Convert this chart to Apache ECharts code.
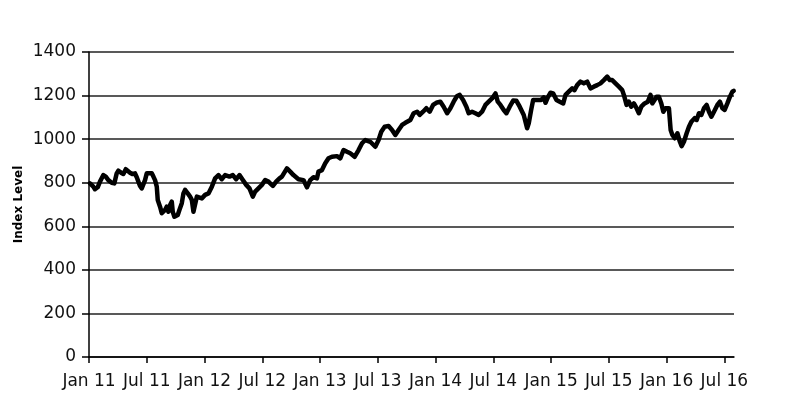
<!DOCTYPE html>
<html>
<head>
<meta charset="utf-8">
<script src="https://cdn.jsdelivr.net/npm/echarts@6/dist/echarts.min.js"></script>
<style>
html,body{margin:0;padding:0;background:#fff;}
#c{width:785px;height:408px;}
</style>
</head>
<body>
<div id="c"></div>
<script>
// Months elapsed since January 2011
const months = [
0.10,0.28,0.45,0.62,0.90,1.14,1.49,1.74,2.01,2.36,2.63,2.88,3.05,3.33,3.57,3.82,4.02,4.26,4.50,4.78,
4.96,5.13,5.30,5.48,5.65,5.82,6.00,6.17,6.52,6.69,6.86,7.04,7.14,7.38,7.56,7.73,7.90,8.08,8.25,8.42,
8.60,8.70,8.87,9.05,9.22,9.39,9.64,9.81,9.98,10.26,10.50,10.68,10.85,11.20,11.72,12.06,12.41,12.76,13.10,13.45,
13.80,14.14,14.59,14.94,15.29,15.63,15.98,16.33,16.67,17.02,17.26,17.60,17.96,18.30,18.64,19.10,19.44,19.79,20.04,20.20,
20.56,20.90,21.24,21.76,22.28,22.64,22.98,23.32,23.68,23.84,24.20,24.54,24.88,25.24,25.76,26.10,26.44,26.80,27.14,27.59,
28.00,28.36,28.70,29.22,29.74,30.08,30.36,30.71,31.12,31.48,31.82,32.16,32.52,32.86,33.04,33.38,33.72,34.08,34.35,34.70,
35.04,35.39,35.74,36.08,36.50,36.84,37.20,37.54,37.88,38.23,38.51,38.86,39.20,39.44,39.79,40.14,40.48,40.83,41.18,41.52,
41.87,42.22,42.46,42.74,43.08,43.36,43.70,44.06,44.40,44.74,45.16,45.51,45.68,45.93,46.14,46.55,46.97,47.24,47.42,47.66,
47.94,48.22,48.56,48.90,49.26,49.50,49.84,50.19,50.43,50.71,51.05,51.40,51.75,52.09,52.44,52.79,53.13,53.48,53.83,54.10,
54.35,54.69,55.04,55.39,55.56,55.84,56.08,56.33,56.60,56.88,57.12,57.37,57.71,58.05,58.33,58.51,58.68,58.96,59.20,59.45,
59.66,59.89,60.07,60.24,60.42,60.60,60.84,61.12,61.38,61.56,61.80,62.08,62.32,62.57,62.91,63.12,63.36,63.61,63.88,64.16,
64.40,64.65,64.92,65.27,65.54,65.79,66.03,66.31,66.58,66.83,66.97
];
const indexLevel = [
797,805,782,770,779,805,835,828,812,800,797,843,855,846,840,862,866,846,840,843,
825,805,785,774,782,812,843,851,843,828,812,782,721,690,660,652,675,690,667,698,
713,667,644,640,652,675,706,751,767,751,736,721,667,736,728,744,751,782,820,835,
816,835,828,835,816,835,812,790,774,736,759,774,790,812,805,785,805,820,828,820,
866,851,835,816,812,779,812,825,820,851,858,889,912,919,922,912,950,942,935,919,
950,981,996,988,965,996,1034,1057,1060,1042,1019,1042,1065,1075,1080,1088,1119,1126,1111,1126,
1142,1126,1157,1167,1172,1149,1119,1142,1172,1198,1203,1180,1149,1119,1126,1119,1111,1126,1157,1172,
1187,1210,1172,1157,1134,1119,1149,1177,1176,1149,1111,1050,1073,1134,1180,1180,1180,1192,1167,1192,
1213,1210,1180,1172,1164,1203,1218,1233,1225,1248,1264,1256,1264,1233,1241,1248,1256,1271,1287,1271,
1271,1256,1241,1225,1203,1157,1172,1149,1164,1142,1119,1149,1164,1172,1203,1164,1157,1195,1195,1164,
1126,1142,1149,1142,1042,1019,1004,1027,988,968,988,1027,1057,1080,1096,1088,1119,1111,1142,1157,
1126,1103,1126,1157,1172,1142,1134,1164,1195,1218,1222
];
// x tick positions (months since Jan 2011) and their labels
const xTickMonths = [0,6,12,18,24,30,36,42,48,54,60,66];
const xTickLabels = ['Jan 11','Jul 11','Jan 12','Jul 12','Jan 13','Jul 13','Jan 14','Jul 14','Jan 15','Jul 15','Jan 16','Jul 16'];
const yTicks = [0,200,400,600,800,1000,1200,1400];
const yAxisTitle = 'Index Level';

const chart = echarts.init(document.getElementById('c'), null, {renderer:'canvas'});
const font = 'DejaVu Sans';
chart.setOption({
  animation:false,
  backgroundColor:'#fff',
  grid:{left:89,right:51,top:52,bottom:51,containLabel:false,outerBoundsMode:'none'},
  xAxis:{
    type:'value', min:0, max:67, interval:6,
    axisLine:{show:true,lineStyle:{color:'#000',width:1.5}},
    axisTick:{show:true,length:6,lineStyle:{color:'#000',width:1.5},customValues:xTickMonths},
    axisLabel:{
      customValues:xTickMonths,
      color:'#111',fontFamily:font,fontSize:17,margin:16,
      formatter:function(v){const i=xTickMonths.indexOf(Math.round(v));return i>=0?xTickLabels[i]:'';}
    },
    splitLine:{show:false}
  },
  yAxis:{
    type:'value', min:yTicks[0], max:yTicks[yTicks.length-1], interval:200,
    name:yAxisTitle, nameLocation:'middle', nameGap:64, nameMoveOverlap:false,
    nameTextStyle:{fontFamily:font,fontSize:12,fontWeight:'bold',color:'#000'},
    axisLine:{show:true,lineStyle:{color:'#000',width:1.5}},
    axisTick:{show:true,length:7,lineStyle:{color:'#000',width:1.5}},
    axisLabel:{color:'#111',fontFamily:font,fontSize:17,margin:13,formatter:function(v){return String(v);}},
    splitLine:{show:true,lineStyle:{color:'#222',width:1.5}}
  },
  series:[{
    type:'line',
    data:months.map((m,i)=>[m,indexLevel[i]]),
    showSymbol:false,
    lineStyle:{color:'#000',width:4.5,join:'round',cap:'round'},
    itemStyle:{color:'#000'}
  }]
});
</script>
</body>
</html>
